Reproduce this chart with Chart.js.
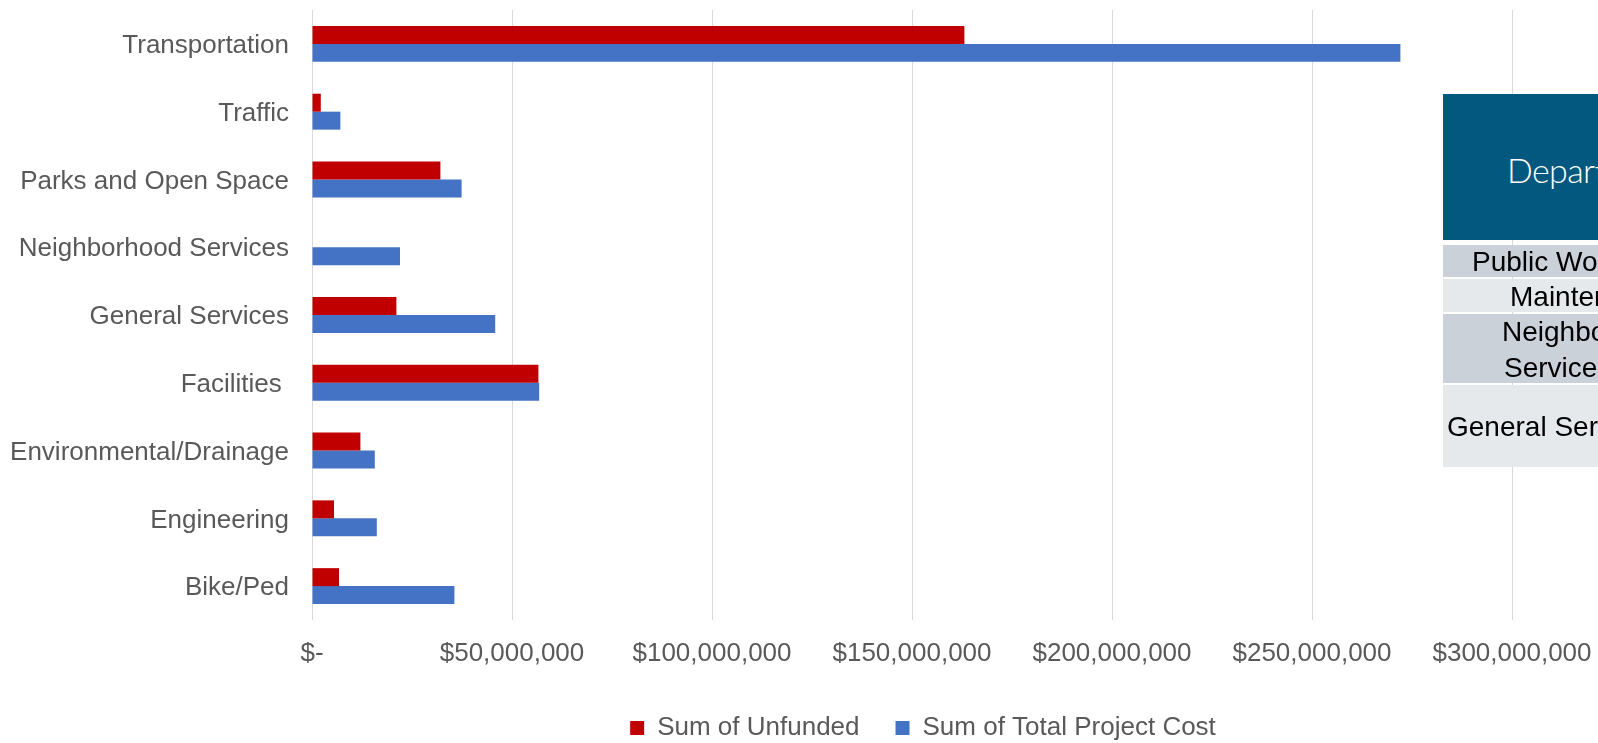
<!DOCTYPE html>
<html>
<head>
<meta charset="utf-8">
<script src="https://cdn.jsdelivr.net/npm/chart.js@4.4.1/dist/chart.umd.min.js"></script>
<style>
  html, body { margin:0; padding:0; background:#fff; width:1598px; height:743px; overflow:hidden; }
  #wrap { position:absolute; left:0; top:0; width:1598px; height:743px; }
  #tbl { position:absolute; left:1443px; top:94px; width:155px; height:373px; overflow:hidden; }
  .cell { position:absolute; left:0; width:400px; }
  .txt { position:absolute; white-space:nowrap; font-family:'Liberation Sans', Arial, sans-serif; font-size:28px; line-height:28px; color:#000; }
  .hdr { position:absolute; white-space:nowrap; font-family:Lato, 'Open Sans', sans-serif; font-weight:300; font-size:34px; line-height:34px; letter-spacing:-0.6px; color:#fff; }
</style>
</head>
<body>
<div id="wrap"><canvas id="c"></canvas></div>
<div id="tbl">
  <div class="cell" style="top:0;height:146px;background:#03587f;"></div>
  <div class="hdr" style="left:64px;top:59px;">Department</div>
  <div class="cell" style="top:151px;height:32px;background:#cbd1d9;"></div>
  <div class="txt" style="left:29px;top:154px;">Public Works</div>
  <div class="cell" style="top:185px;height:33px;background:#e6e9ec;"></div>
  <div class="txt" style="left:67px;top:189px;">Maintenance</div>
  <div class="cell" style="top:220px;height:69px;background:#cbd1d9;"></div>
  <div class="txt" style="left:59px;top:224px;">Neighborhood</div>
  <div class="txt" style="left:61px;top:260px;">Services</div>
  <div class="cell" style="top:291px;height:82px;background:#e6e9ec;"></div>
  <div class="txt" style="left:4px;top:319px;">General Services</div>
</div>
<script>
const categories = ["Transportation", "Traffic", "Parks and Open Space", "Neighborhood Services", "General Services", "Facilities ", "Environmental/Drainage", "Engineering", "Bike/Ped"];
const unfunded = [163100000, 2200000, 32100000, 0, 21100000, 56600000, 12100000, 5500000, 6750000];
const totalProjectCost = [272100000, 7100000, 37400000, 22000000, 45800000, 56800000, 15700000, 16200000, 35600000];
const xTickLabels = ["$-", "$50,000,000", "$100,000,000", "$150,000,000", "$200,000,000", "$250,000,000", "$300,000,000"];
const seriesNames = ["Sum of Unfunded", "Sum of Total Project Cost"];

Chart.defaults.font.family = "'Liberation Sans', Arial, sans-serif";
Chart.defaults.color = "#595959";

const legendShift = {
  id: 'legendShift',
  afterLayout(chart) {
    const l = chart.legend;
    if (l) { l.left += 11; l.right += 11; }
  }
};

new Chart(document.getElementById('c'), {
  type: 'bar',
  data: {
    labels: categories,
    datasets: [
      { label: seriesNames[0], data: unfunded, backgroundColor: '#c00000', borderWidth: 0 },
      { label: seriesNames[1], data: totalProjectCost, backgroundColor: '#4472c4', borderWidth: 0 }
    ]
  },
  options: {
    indexAxis: 'y',
    responsive: true,
    maintainAspectRatio: false,
    animation: false,
    categoryPercentage: 0.53,
    barPercentage: 1.0,
    layout: { padding: { top: 10, right: 86, bottom: -8, left: 0 } },
    scales: {
      x: {
        min: 0, max: 300000000,
        ticks: {
          stepSize: 50000000,
          padding: 0,
          maxRotation: 0,
          autoSkip: false,
          font: { size: 26 },
          color: '#595959',
          callback: (v, i) => xTickLabels[i]
        },
        grid: { color: '#d9d9d9', lineWidth: 1, drawTicks: true, tickLength: 18, tickColor: 'rgba(0,0,0,0)' },
        border: { display: false },
        afterFit: (s) => { s.height = 59; }
      },
      y: {
        ticks: { padding: 0, autoSkip: false, labelOffset: 2, font: { size: 26, lineHeight: 0.7 }, color: '#595959' },
        grid: { display: false, drawTicks: true, tickLength: 23, tickColor: 'rgba(0,0,0,0)' },
        border: { display: false },
        afterFit: (s) => { s.width = 312; }
      }
    },
    plugins: {
      legend: {
        position: 'bottom',
        fullSize: false,
        labels: { boxWidth: 14, boxHeight: 14, padding: 36, font: { size: 26 }, color: '#595959' }
      },
      tooltip: { enabled: false }
    }
  },
  plugins: [legendShift]
});
</script>
</body>
</html>
